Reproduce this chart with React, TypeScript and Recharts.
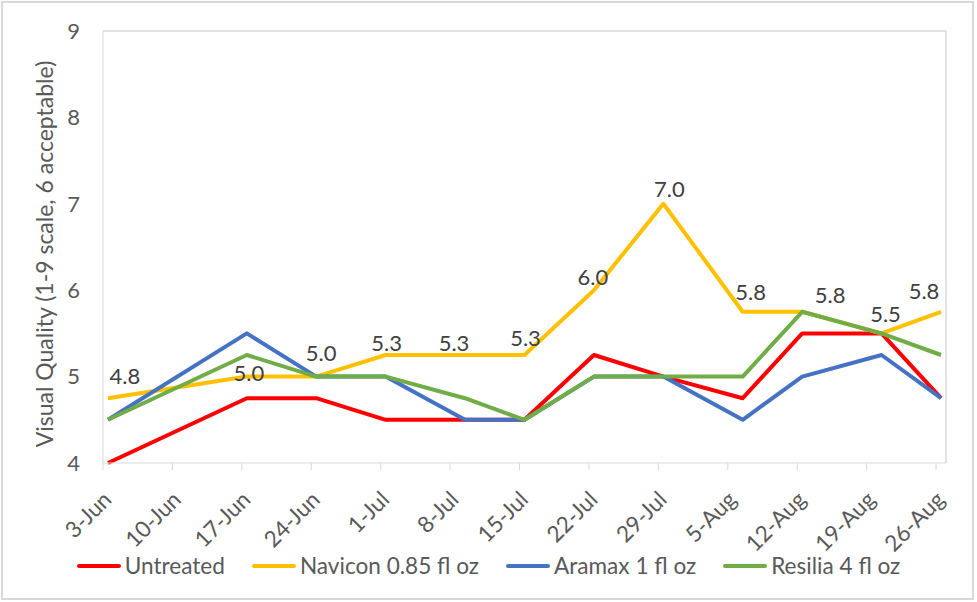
import { LineChart, Line, XAxis, YAxis, ReferenceLine } from 'recharts';

// sample dates (Excel date axis, weekly major unit)
const sampleDates = [
  '2019-06-03', '2019-06-17', '2019-06-24', '2019-07-01', '2019-07-09', '2019-07-15',
  '2019-07-22', '2019-07-29', '2019-08-06', '2019-08-12', '2019-08-20', '2019-08-26',
];
const tickLabels = [
  '3-Jun', '10-Jun', '17-Jun', '24-Jun', '1-Jul', '8-Jul', '15-Jul',
  '22-Jul', '29-Jul', '5-Aug', '12-Aug', '19-Aug', '26-Aug',
];
const yTicks = [4, 5, 6, 7, 8, 9];

const untreated = [4.0, 4.75, 4.75, 4.5, 4.5, 4.5, 5.25, 5.0, 4.75, 5.5, 5.5, 4.75];
const navicon = [4.75, 5.0, 5.0, 5.25, 5.25, 5.25, 6.0, 7.0, 5.75, 5.75, 5.5, 5.75];
const aramax = [4.5, 5.5, 5.0, 5.0, 4.5, 4.5, 5.0, 5.0, 4.5, 5.0, 5.25, 4.75];
const resilia = [4.5, 5.25, 5.0, 5.0, 4.75, 4.5, 5.0, 5.0, 5.0, 5.75, 5.5, 5.25];

const series = [
  { key: 'untreated', name: 'Untreated', color: '#FF0000' },
  { key: 'navicon', name: 'Navicon 0.85 fl oz', color: '#FFC000' },
  { key: 'aramax', name: 'Aramax 1 fl oz', color: '#4472C4' },
  { key: 'resilia', name: 'Resilia 4 fl oz', color: '#70AD47' },
];

const DAY = 86400000;
const start = Date.parse(sampleDates[0]);
// points sit in the middle of their day slot, like Excel's date axis
const data = sampleDates.map((d, i) => ({
  day: (Date.parse(d) - start) / DAY + 0.5,
  untreated: untreated[i],
  navicon: navicon[i],
  aramax: aramax[i],
  resilia: resilia[i],
}));
const xTicks = tickLabels.map((_, i) => i * 7);

// hand-placed data labels in the original, nudged per point
const labelNudge = [
  [17, -23], [2, -4], [5, -24], [1, -13], [-11, -13], [1, -18],
  [-1, -14], [6, -15], [8, -20], [28, -17], [4, -20], [-17, -21],
];

const FONT = 'Lato, "Open Sans", sans-serif';
const GREY = '#595959';
const AXIS = '#d9d9d9';

const NaviconLabel = (props: any) => {
  const { x, y, index, value } = props;
  const [dx, dy] = labelNudge[index] || [0, -15];
  return (
    <text
      x={x + dx}
      y={y + dy}
      textAnchor="middle"
      dominantBaseline="central"
      fill="#404040"
      fontSize={22}
      fontFamily={FONT}
    >
      {Number(value).toFixed(1)}
    </text>
  );
};

const DateTick = (props: any) => {
  const { x, y, payload } = props;
  const px = x + 10;
  const py = y + 31;
  return (
    <text
      x={px}
      y={py}
      transform={`rotate(-45, ${px}, ${py})`}
      textAnchor="end"
      fill={GREY}
      fontSize={22.5}
      fontFamily={FONT}
    >
      {tickLabels[Math.round(payload.value / 7)]}
    </text>
  );
};

export default function App() {
  return (
    <div style={{ position: 'absolute', left: 0, top: 0, width: 977, height: 602, background: '#fff', fontFamily: FONT }}>
      <div
        style={{
          position: 'absolute', left: 1, top: 1, width: 973, height: 599,
          boxSizing: 'border-box', border: `2px solid ${AXIS}`,
        }}
      />
      <LineChart
        width={977}
        height={602}
        data={data}
        margin={{ top: 31, right: 31, left: 43, bottom: 109 }}
      >
        <XAxis
          dataKey="day"
          type="number"
          domain={[0, 85]}
          ticks={xTicks}
          interval={0}
          allowDecimals={false}
          stroke={AXIS}
          tickLine={{ stroke: AXIS }}
          tickSize={7}
          tickMargin={0}
          height={30}
          tick={<DateTick />}
        />
        <YAxis
          type="number"
          domain={[4, 9]}
          ticks={yTicks}
          width={60}
          stroke={AXIS}
          tickLine={false}
          tickSize={0}
          tickMargin={23}
          tick={{ fill: GREY, fontSize: 22, fontFamily: FONT }}
        />
        <ReferenceLine y={9} stroke={AXIS} strokeWidth={1.5} />
        <ReferenceLine x={85} stroke={AXIS} strokeWidth={1.5} />
        {series.map((s) => (
          <Line
            key={s.key}
            type="linear"
            dataKey={s.key}
            name={s.name}
            stroke={s.color}
            strokeWidth={4}
            strokeLinejoin="round"
            dot={false}
            activeDot={false}
            isAnimationActive={false}
            label={s.key === 'navicon' ? <NaviconLabel /> : undefined}
          />
        ))}
      </LineChart>

      {/* axis title */}
      <div
        style={{
          position: 'absolute', left: 44, top: 254,
          transform: 'translate(-50%, -50%) rotate(-90deg)',
          whiteSpace: 'nowrap', color: GREY, fontSize: 23,
        }}
      >
        Visual Quality (1-9 scale, 6 acceptable)
      </div>

      {/* legend */}
      <div
        style={{
          position: 'absolute', left: 0, top: 552, width: 977, height: 28,
          display: 'flex', justifyContent: 'center', alignItems: 'center', gap: 27,
        }}
      >
        {series.map((s) => (
          <div key={s.key} style={{ display: 'flex', alignItems: 'center', gap: 4 }}>
            <span style={{ display: 'inline-block', width: 44, height: 4, borderRadius: 2, background: s.color }} />
            <span style={{ color: GREY, fontSize: 22.6, lineHeight: '28px' }}>{s.name}</span>
          </div>
        ))}
      </div>
    </div>
  );
}
